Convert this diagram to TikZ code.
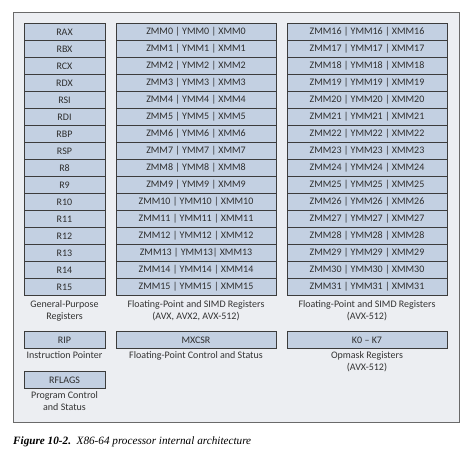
\documentclass[tikz,border=0pt]{standalone}
\usepackage{fontspec}
\setmainfont{Carlito}
\newfontfamily\capfont{Liberation Serif}
\definecolor{framebg}{HTML}{ECEEF2}
\definecolor{frameline}{HTML}{6A6A6A}
\definecolor{regfill}{HTML}{C3D0E2}
\definecolor{regline}{HTML}{3C3C3C}
\definecolor{regtext}{HTML}{2E2E2E}
\definecolor{captext}{HTML}{333333}
\tikzset{
  reg/.style={draw=regline, fill=regfill, line width=0.9pt, minimum height=17pt, inner sep=0pt, text=regtext, font=\fontsize{10}{12}\selectfont, anchor=north},
  gpr/.style={reg, minimum width=81pt},
  simd/.style={reg, minimum width=160pt},
  lbl/.style={text=captext, font=\fontsize{10}{12.2}\selectfont, align=center, anchor=north, inner sep=0pt},
}
\begin{document}
\begin{tikzpicture}[x=1pt,y=-1pt]
\useasboundingbox (0,0) rectangle (474,453);
\node[draw=frameline, fill=framebg, line width=1.4pt, minimum width=446pt, minimum height=410pt, anchor=north west, inner sep=0pt] (frame) at (13,12) {};
\foreach \n [count=\i from 0] in {RAX,RBX,RCX,RDX,RSI,RDI,RBP,RSP,R8,R9,R10,R11,R12,R13,R14,R15} {
  \node[gpr] (g\i) at (64.5,23+17*\i) {\n};
}
\foreach \i in {0,...,15} {
  \ifnum\i=13
    \node[simd] (z\i) at (196,23+17*\i) {ZMM\i\ | YMM\i| XMM\i};
  \else
    \node[simd] (z\i) at (196,23+17*\i) {ZMM\i\ | YMM\i\ | XMM\i};
  \fi
}
\foreach \i [evaluate=\i as \k using int(\i+16)] in {0,...,15} {
  \node[simd] (h\i) at (367,23+17*\i) {ZMM\k\ | YMM\k\ | XMM\k};
}
\node[lbl] (gprl) at (64.5,300) {General-Purpose\\Registers};
\node[lbl] (simdl) at (196,300) {Floating-Point and SIMD Registers\\(AVX, AVX2, AVX-512)};
\node[lbl] (simdh) at (367,300) {Floating-Point and SIMD Registers\\(AVX-512)};
\node[gpr] (rip) at (64.5,331) {RIP};
\node[lbl] (ripl) at (64.5,351) {Instruction Pointer};
\node[simd] (mxcsr) at (196,331) {MXCSR};
\node[lbl] (mxcsrl) at (196,351) {Floating-Point Control and Status};
\node[simd] (kreg) at (367,331) {K0 -- K7};
\node[lbl] (kregl) at (367,351) {Opmask Registers\\(AVX-512)};
\node[gpr] (rflags) at (64.5,371) {RFLAGS};
\node[lbl] (rflagsl) at (64.5,391) {Program Control\\and Status};
\node[anchor=west, inner sep=0pt, font=\capfont\fontsize{11.2}{13}\selectfont] (cap) at (13,442) {\textbf{\textit{Figure 10-2.}}\ \ \textit{X86-64 processor internal architecture}};
\end{tikzpicture}
\end{document}
